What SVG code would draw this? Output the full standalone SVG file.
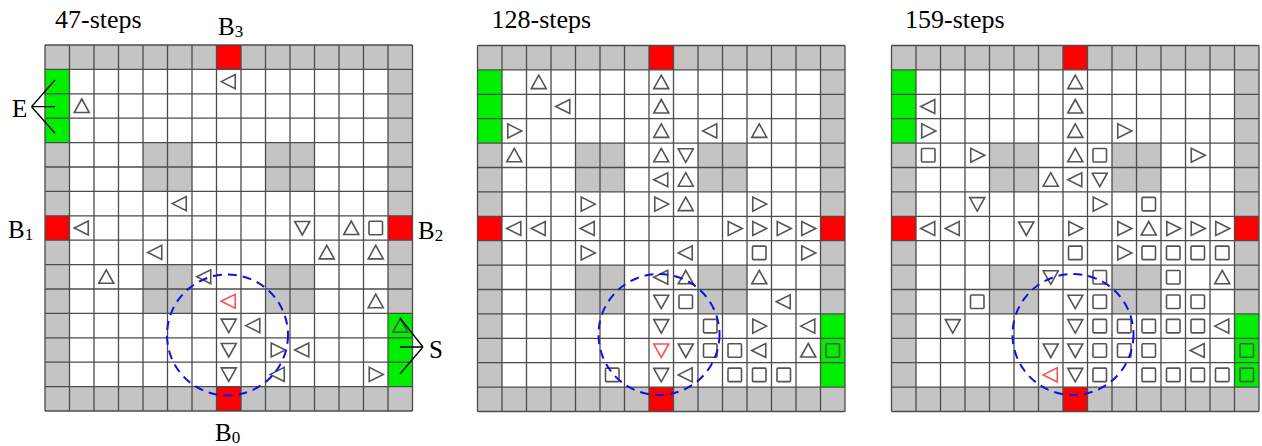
<svg xmlns="http://www.w3.org/2000/svg" xmlns:xlink="http://www.w3.org/1999/xlink" width="1262" height="446" viewBox="0 0 1262 446">
<style>
.bg{fill:#c4c4c4}
.in{fill:#ffffff}
.gr{fill:#c4c4c4}
.rd{fill:#ff0000}
.gn{fill:#00ee00}
.lines{fill:none;stroke:#4c4c4c;stroke-width:1.3}
.sym{fill:none;stroke:#555555;stroke-width:1.6;stroke-linejoin:miter}
.red{stroke:#ff5050}
.circ{fill:none;stroke:#0a14e6;stroke-width:2;stroke-dasharray:9 6}
.t{font-family:"Liberation Serif","Times New Roman",serif;fill:#000}
.title{font-size:26px}
.lab{font-size:25px}
.sub{font-size:17px}
.ptr{stroke:#000;stroke-width:1.3;fill:none}
</style>
<defs>
<path id="U" d="M0,-7 L7.5,6.5 L-7.5,6.5 Z"/>
<path id="D" d="M0,7 L7.5,-6.5 L-7.5,-6.5 Z"/>
<path id="L" d="M-7.5,0 L6.5,-7 L6.5,7 Z"/>
<path id="R" d="M7.5,0 L-6.5,-7 L-6.5,7 Z"/>
<rect id="Q" x="-6.75" y="-6.75" width="13.5" height="13.5" rx="1"/>
<g id="base">
<rect class="bg" x="0" y="0" width="367.5" height="366"/>
<rect class="in" x="24.5" y="24.4" width="318.5" height="317.2"/>
<rect class="gr" x="98" y="97.6" width="49" height="48.8"/>
<rect class="gr" x="220.5" y="97.6" width="49" height="48.8"/>
<rect class="gr" x="98" y="219.6" width="49" height="48.8"/>
<rect class="gr" x="220.5" y="219.6" width="49" height="48.8"/>
<rect class="rd" x="171.5" y="0" width="24.5" height="24.4"/>
<rect class="rd" x="171.5" y="341.6" width="24.5" height="24.4"/>
<rect class="rd" x="0" y="170.8" width="24.5" height="24.4"/>
<rect class="rd" x="343" y="170.8" width="24.5" height="24.4"/>
<rect class="gn" x="0" y="24.4" width="24.5" height="73.2"/>
<rect class="gn" x="343" y="268.4" width="24.5" height="73.2"/>
<path class="lines" d="M0,0V366M24.5,0V366M49,0V366M73.5,0V366M98,0V366M122.5,0V366M147,0V366M171.5,0V366M196,0V366M220.5,0V366M245,0V366M269.5,0V366M294,0V366M318.5,0V366M343,0V366M367.5,0V366M0,0H367.5M0,24.4H367.5M0,48.8H367.5M0,73.2H367.5M0,97.6H367.5M0,122H367.5M0,146.4H367.5M0,170.8H367.5M0,195.2H367.5M0,219.6H367.5M0,244H367.5M0,268.4H367.5M0,292.8H367.5M0,317.2H367.5M0,341.6H367.5M0,366H367.5"/>
</g>
</defs>

<g id="panel-47">
<text class="t title" x="55" y="28">47-steps</text>
<g transform="translate(45,45)">
<use href="#base"/>
<g class="sym">
<use href="#L" x="183.75" y="36.6"/>
<use href="#U" x="36.75" y="61"/>
<use href="#L" x="134.75" y="158.6"/>
<use href="#L" x="36.75" y="183"/>
<use href="#D" x="257.25" y="183"/>
<use href="#U" x="306.25" y="183"/>
<use href="#Q" x="330.75" y="183"/>
<use href="#L" x="110.25" y="207.4"/>
<use href="#U" x="281.75" y="207.4"/>
<use href="#U" x="330.75" y="207.4"/>
<use href="#U" x="61.25" y="231.8"/>
<use href="#L" x="159.25" y="231.8"/>
<use href="#L" x="183.75" y="256.2" class="red"/>
<use href="#U" x="330.75" y="256.2"/>
<use href="#D" x="183.75" y="280.6"/>
<use href="#L" x="208.25" y="280.6"/>
<use href="#U" x="355.25" y="280.6"/>
<use href="#D" x="183.75" y="305"/>
<use href="#R" x="232.75" y="305"/>
<use href="#L" x="257.25" y="305"/>
<use href="#D" x="183.75" y="329.4"/>
<use href="#L" x="232.75" y="329.4"/>
<use href="#R" x="330.75" y="329.4"/>
</g>
<circle class="circ" cx="182.5" cy="290" r="60.5"/>
</g>
<text class="t lab" x="218" y="35">B<tspan class="sub" dy="2">3</tspan></text>
<text class="t lab" x="8" y="238">B<tspan class="sub" dy="2">1</tspan></text>
<text class="t lab" x="418" y="239">B<tspan class="sub" dy="2">2</tspan></text>
<text class="t lab" x="215" y="441">B<tspan class="sub" dy="2">0</tspan></text>
<text class="t lab" x="12" y="116.5">E</text>
<text class="t lab" x="429" y="357.5">S</text>
</g>

<g id="panel-128">
<text class="t title" x="491.5" y="28">128-steps</text>
<g transform="translate(477.5,45.5)">
<use href="#base"/>
<g class="sym">
<use href="#U" x="61.25" y="36.6"/>
<use href="#U" x="183.75" y="36.6"/>
<use href="#L" x="85.75" y="61"/>
<use href="#U" x="183.75" y="61"/>
<use href="#R" x="36.75" y="85.4"/>
<use href="#U" x="183.75" y="85.4"/>
<use href="#L" x="232.75" y="85.4"/>
<use href="#U" x="281.75" y="85.4"/>
<use href="#U" x="36.75" y="109.8"/>
<use href="#U" x="183.75" y="109.8"/>
<use href="#D" x="208.25" y="109.8"/>
<use href="#L" x="183.75" y="134.2"/>
<use href="#U" x="208.25" y="134.2"/>
<use href="#R" x="110.25" y="158.6"/>
<use href="#R" x="183.75" y="158.6"/>
<use href="#U" x="208.25" y="158.6"/>
<use href="#R" x="281.75" y="158.6"/>
<use href="#L" x="36.75" y="183"/>
<use href="#L" x="61.25" y="183"/>
<use href="#L" x="110.25" y="183"/>
<use href="#R" x="257.25" y="183"/>
<use href="#R" x="281.75" y="183"/>
<use href="#R" x="306.25" y="183"/>
<use href="#R" x="330.75" y="183"/>
<use href="#R" x="110.25" y="207.4"/>
<use href="#L" x="208.25" y="207.4"/>
<use href="#Q" x="281.75" y="207.4"/>
<use href="#R" x="330.75" y="207.4"/>
<use href="#L" x="183.75" y="231.8"/>
<use href="#U" x="208.25" y="231.8"/>
<use href="#U" x="281.75" y="231.8"/>
<use href="#D" x="183.75" y="256.2"/>
<use href="#Q" x="208.25" y="256.2"/>
<use href="#L" x="306.25" y="256.2"/>
<use href="#D" x="183.75" y="280.6"/>
<use href="#Q" x="232.75" y="280.6"/>
<use href="#R" x="281.75" y="280.6"/>
<use href="#L" x="330.75" y="280.6"/>
<use href="#D" x="183.75" y="305" class="red"/>
<use href="#D" x="208.25" y="305"/>
<use href="#Q" x="232.75" y="305"/>
<use href="#Q" x="257.25" y="305"/>
<use href="#L" x="281.75" y="305"/>
<use href="#U" x="330.75" y="305"/>
<use href="#Q" x="355.25" y="305"/>
<use href="#Q" x="134.75" y="329.4"/>
<use href="#D" x="183.75" y="329.4"/>
<use href="#L" x="208.25" y="329.4"/>
<use href="#Q" x="257.25" y="329.4"/>
<use href="#Q" x="281.75" y="329.4"/>
<use href="#Q" x="306.25" y="329.4"/>
</g>
<circle class="circ" cx="181.5" cy="289" r="60.5"/>
</g>
</g>

<g id="panel-159">
<text class="t title" x="905" y="28">159-steps</text>
<g transform="translate(891.5,45.5)">
<use href="#base"/>
<g class="sym">
<use href="#U" x="183.75" y="36.6"/>
<use href="#L" x="36.75" y="61"/>
<use href="#U" x="183.75" y="61"/>
<use href="#R" x="36.75" y="85.4"/>
<use href="#U" x="183.75" y="85.4"/>
<use href="#R" x="232.75" y="85.4"/>
<use href="#Q" x="36.75" y="109.8"/>
<use href="#R" x="85.75" y="109.8"/>
<use href="#U" x="183.75" y="109.8"/>
<use href="#Q" x="208.25" y="109.8"/>
<use href="#R" x="306.25" y="109.8"/>
<use href="#U" x="159.25" y="134.2"/>
<use href="#L" x="183.75" y="134.2"/>
<use href="#D" x="208.25" y="134.2"/>
<use href="#D" x="85.75" y="158.6"/>
<use href="#R" x="208.25" y="158.6"/>
<use href="#Q" x="257.25" y="158.6"/>
<use href="#L" x="36.75" y="183"/>
<use href="#L" x="61.25" y="183"/>
<use href="#D" x="134.75" y="183"/>
<use href="#R" x="183.75" y="183"/>
<use href="#R" x="232.75" y="183"/>
<use href="#U" x="257.25" y="183"/>
<use href="#R" x="281.75" y="183"/>
<use href="#R" x="306.25" y="183"/>
<use href="#R" x="330.75" y="183"/>
<use href="#Q" x="183.75" y="207.4"/>
<use href="#R" x="232.75" y="207.4"/>
<use href="#Q" x="257.25" y="207.4"/>
<use href="#Q" x="281.75" y="207.4"/>
<use href="#Q" x="306.25" y="207.4"/>
<use href="#Q" x="330.75" y="207.4"/>
<use href="#D" x="159.25" y="231.8"/>
<use href="#Q" x="208.25" y="231.8"/>
<use href="#Q" x="281.75" y="231.8"/>
<use href="#U" x="330.75" y="231.8"/>
<use href="#Q" x="85.75" y="256.2"/>
<use href="#D" x="183.75" y="256.2"/>
<use href="#Q" x="208.25" y="256.2"/>
<use href="#Q" x="281.75" y="256.2"/>
<use href="#Q" x="306.25" y="256.2"/>
<use href="#D" x="61.25" y="280.6"/>
<use href="#D" x="183.75" y="280.6"/>
<use href="#Q" x="208.25" y="280.6"/>
<use href="#Q" x="232.75" y="280.6"/>
<use href="#Q" x="257.25" y="280.6"/>
<use href="#Q" x="281.75" y="280.6"/>
<use href="#Q" x="306.25" y="280.6"/>
<use href="#L" x="330.75" y="280.6"/>
<use href="#D" x="159.25" y="305"/>
<use href="#D" x="183.75" y="305"/>
<use href="#Q" x="208.25" y="305"/>
<use href="#Q" x="232.75" y="305"/>
<use href="#Q" x="257.25" y="305"/>
<use href="#L" x="306.25" y="305"/>
<use href="#Q" x="355.25" y="305"/>
<use href="#L" x="159.25" y="329.4" class="red"/>
<use href="#D" x="183.75" y="329.4"/>
<use href="#Q" x="208.25" y="329.4"/>
<use href="#Q" x="257.25" y="329.4"/>
<use href="#Q" x="281.75" y="329.4"/>
<use href="#Q" x="306.25" y="329.4"/>
<use href="#Q" x="330.75" y="329.4"/>
<use href="#Q" x="355.25" y="329.4"/>
</g>
<circle class="circ" cx="181.5" cy="289" r="60.5"/>
</g>
</g>

<g id="connectors">
<path class="ptr" d="M31.5,106.7L55,80M31.5,106.7L55,106.7M31.5,106.7L55,133.3"/>
<path class="ptr" d="M423,347L400,318M423,347L400,347M423,347L400,374"/>
</g>
</svg>
